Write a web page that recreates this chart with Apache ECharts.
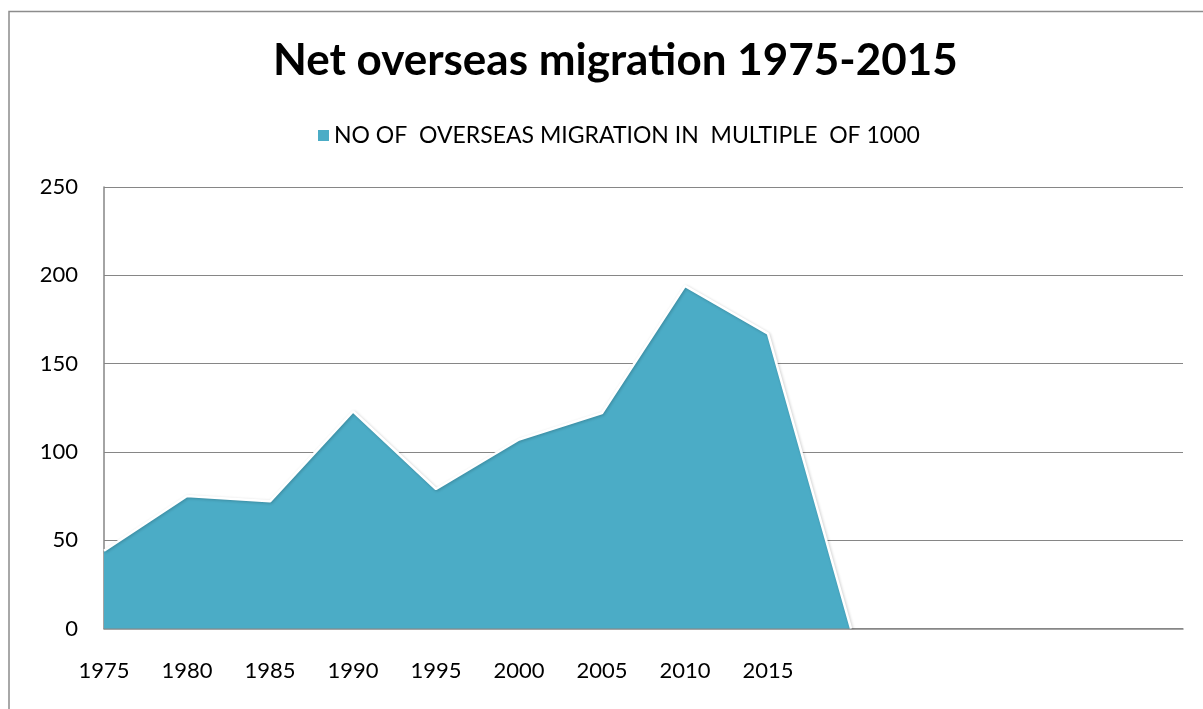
<!DOCTYPE html>
<html>
<head>
<meta charset="utf-8">
<script src="https://cdn.jsdelivr.net/npm/echarts@6/dist/echarts.min.js"></script>
<style>
  html, body { margin: 0; padding: 0; background: #fff; }
  #chart { width: 1203px; height: 709px; }
</style>
</head>
<body>
<div id="chart"></div>
<script>
// Year categories (the trailing blank slots keep the axis running past 2015)
const years = ['1975', '1980', '1985', '1990', '1995', '2000', '2005', '2010', '2015', '', '', '', '', ''];
// Net overseas migration, thousands of people
const migration = [44, 75, 72, 123, 79, 107, 122, 194, 167, 0, null, null, null, null];
const yTicks = { min: 0, max: 250, interval: 50 };

const seriesName = 'NO OF  OVERSEAS MIGRATION IN  MULTIPLE  OF 1000';
const fill = '#4BACC6';
const gridGray = '#868686';
const font = 'Lato, "Open Sans", sans-serif';

const chart = echarts.init(document.getElementById('chart'), null, { renderer: 'canvas' });

chart.setOption({
  backgroundColor: '#fff',
  animation: false,
  title: {
    text: 'Net overseas migration 1975-2015',
    left: 268,
    top: 34,
    textStyle: { fontFamily: font, fontWeight: 'bold', fontSize: 44, color: '#000' }
  },
  legend: {
    top: 119,
    left: 313,
    icon: 'rect',
    itemWidth: 11,
    itemHeight: 11,
    itemGap: 8,
    textStyle: { fontFamily: font, fontSize: 23, color: '#000' },
    data: [seriesName]
  },
  grid: { left: 104, right: 20, top: 187, bottom: 80.5, containLabel: false },
  xAxis: {
    type: 'category',
    data: years,
    boundaryGap: false,
    axisLine: { show: true, lineStyle: { color: gridGray, width: 1.5 } },
    axisTick: { show: false },
    axisLabel: { interval: 0, margin: 31, fontFamily: font, fontSize: 22, color: '#000' },
    splitLine: { show: false }
  },
  yAxis: {
    type: 'value',
    min: yTicks.min,
    max: yTicks.max,
    interval: yTicks.interval,
    axisLine: { show: true, lineStyle: { color: gridGray, width: 1.5 } },
    axisTick: { show: false },
    axisLabel: { margin: 26, fontFamily: font, fontSize: 22, color: '#000' },
    splitLine: { show: true, lineStyle: { color: gridGray, width: 1.2 } }
  },
  series: [{
    name: seriesName,
    type: 'line',
    data: migration,
    symbol: 'none',
    connectNulls: false,
    color: fill,
    lineStyle: {
      color: '#ffffff',
      width: 2.5,
      shadowColor: 'rgba(0,0,0,0.22)',
      shadowBlur: 3,
      shadowOffsetX: 1,
      shadowOffsetY: 1
    },
    areaStyle: { color: fill, opacity: 1 },
    z: 3
  }],
  graphic: [
    // outer frame of the chart area
    {
      type: 'polyline',
      silent: true,
      shape: { points: [[9, 709], [9, 11.5], [1203, 11.5]] },
      style: { stroke: '#8c8c8c', lineWidth: 1.5, fill: null }
    }
  ]
});
</script>
</body>
</html>
